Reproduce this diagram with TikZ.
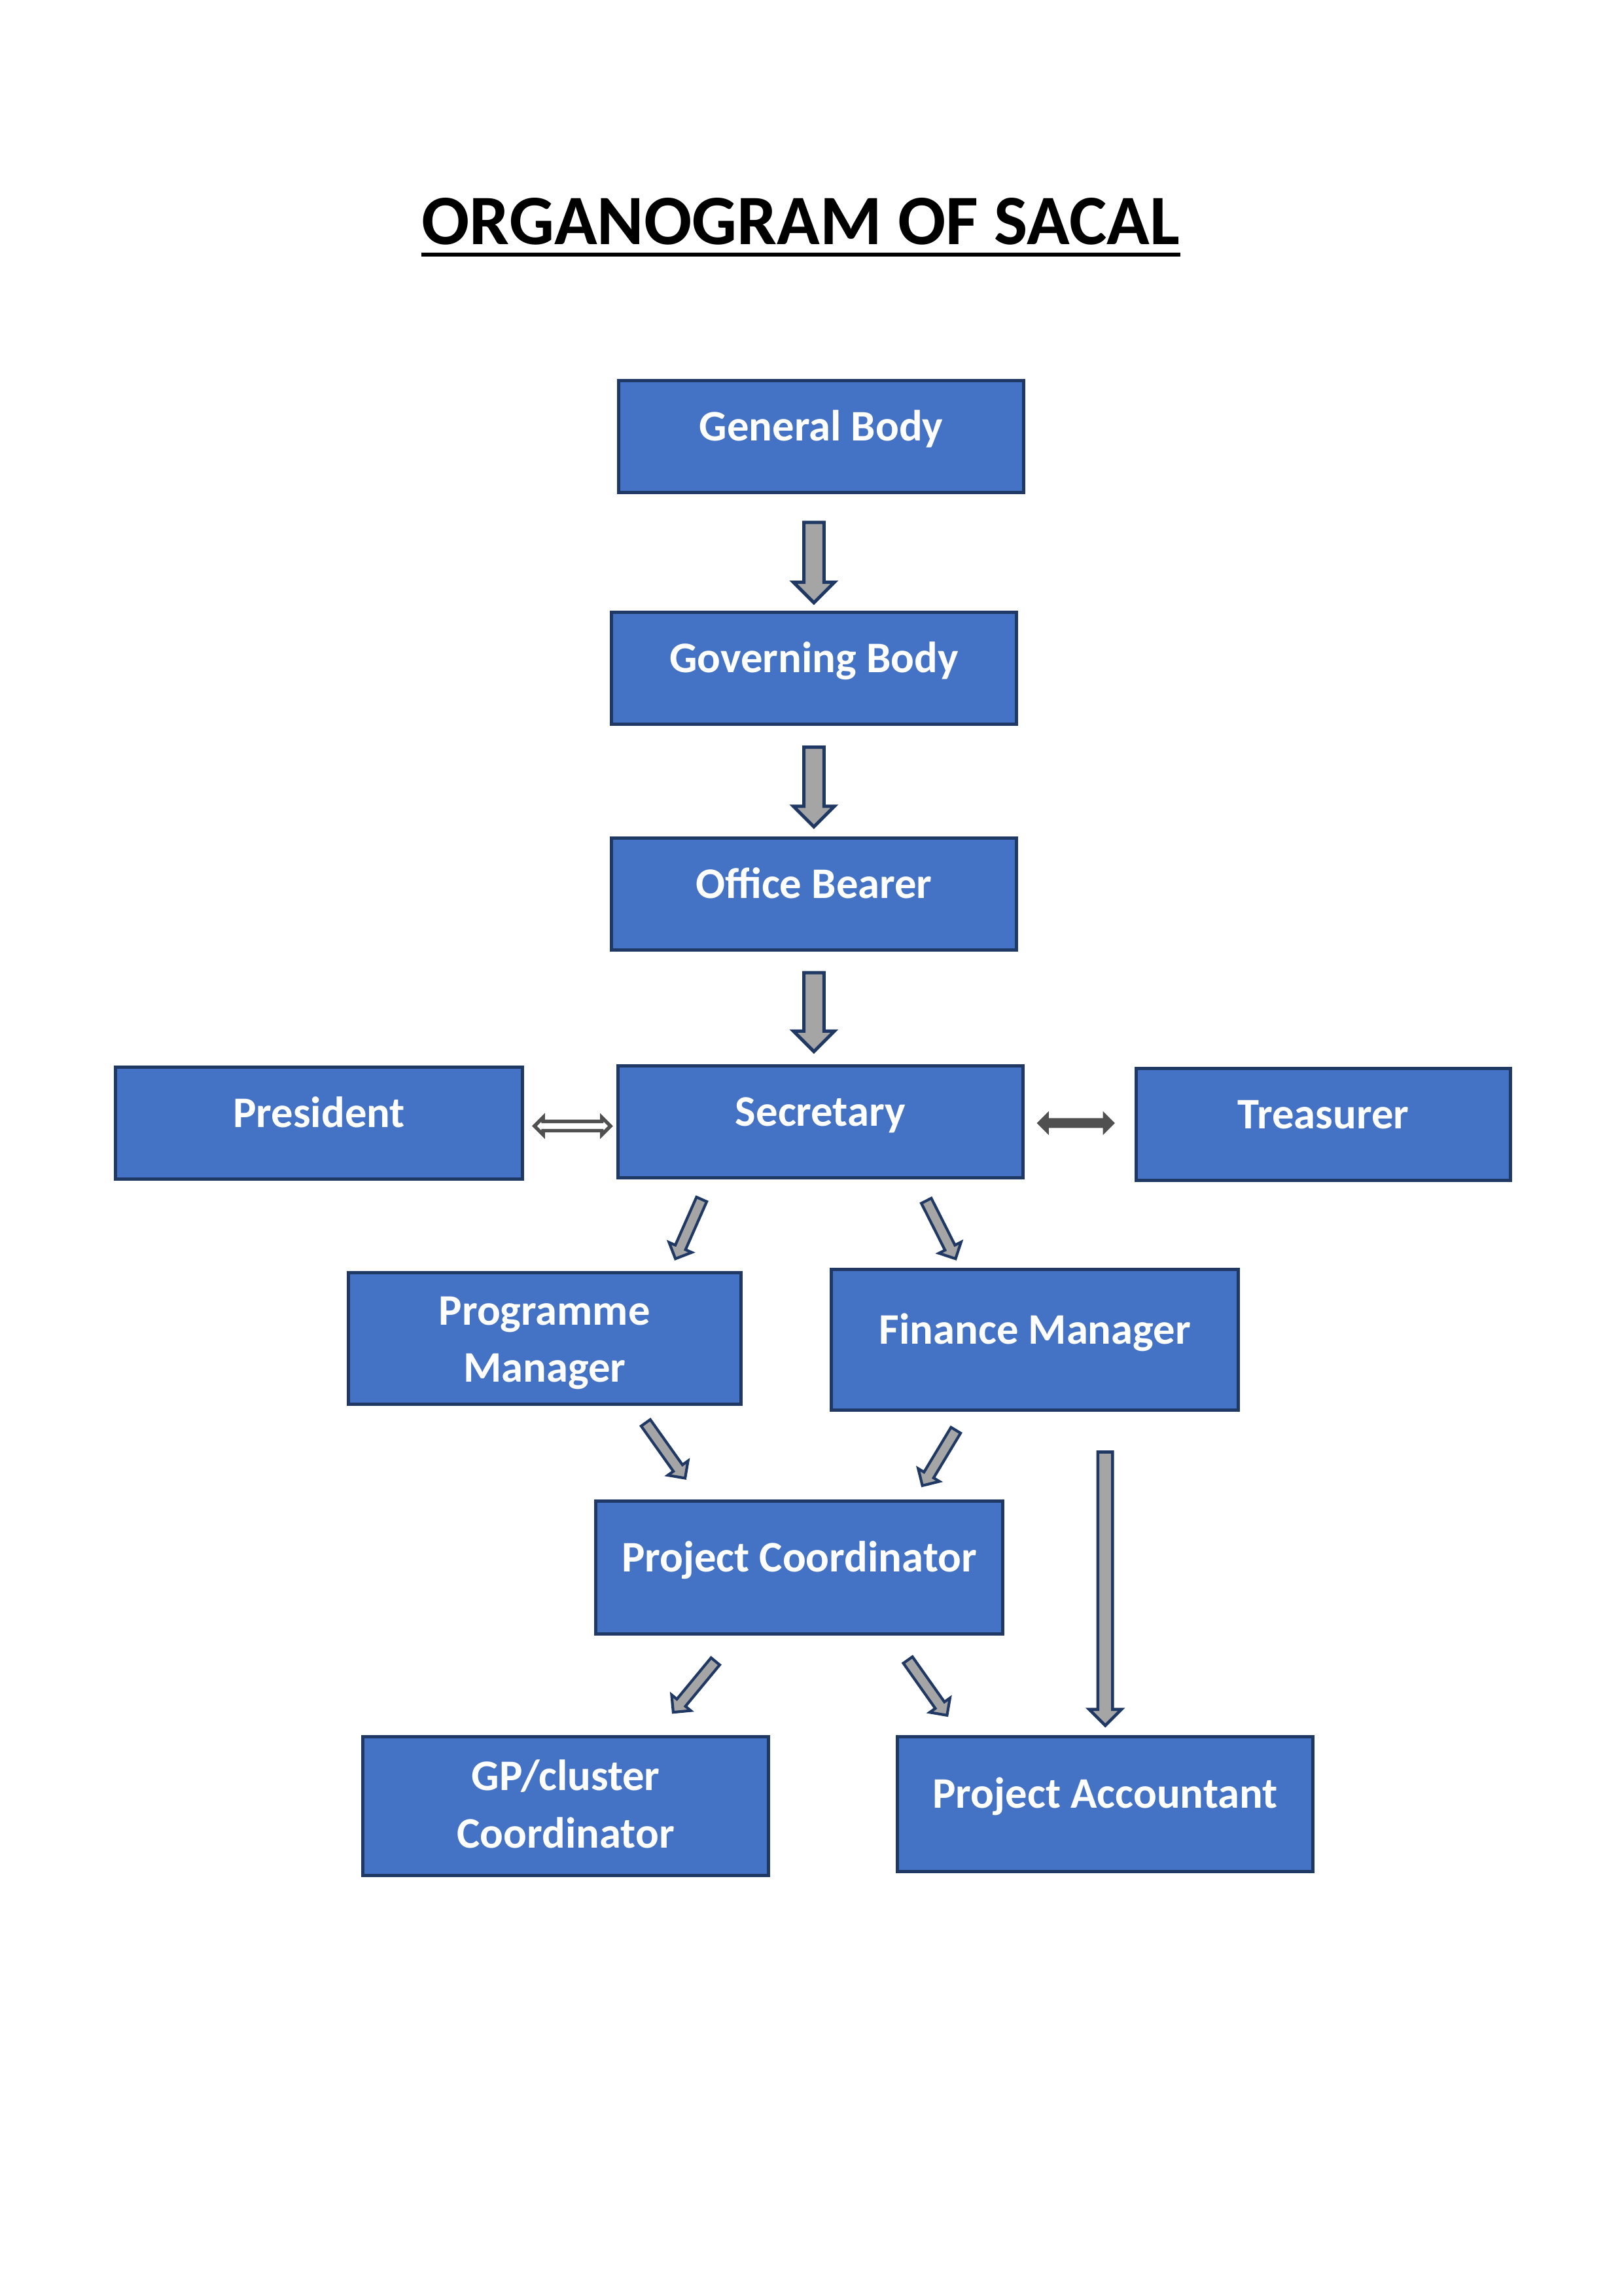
\documentclass[tikz,border=0pt]{standalone}
\usepackage{fontspec}
\setmainfont{Carlito}
\usepackage{tikz}
\usetikzlibrary{positioning, shapes.arrows, calc}

\definecolor{boxblue}{HTML}{4472C4}
\definecolor{boxline}{HTML}{1F3864}
\definecolor{arrowgray}{HTML}{A5A5A5}
\definecolor{darkarrow}{HTML}{505050}

\tikzset{
    orgbox/.style={draw=boxline, fill=boxblue, line width=1.2pt, text=white,
        font=\fontsize{16}{21}\selectfont\bfseries, align=center,
        minimum width=148.5pt, minimum height=41pt, text height=11.2pt, text depth=8pt, inner sep=2pt},
    downarrow/.style={single arrow, draw=boxline, fill=arrowgray, line width=1.2pt,
        inner xsep=0pt, inner ysep=3.1pt, minimum width=0pt,
        single arrow head extend=3.8pt, single arrow head indent=0pt},
    slantarrow/.style={single arrow, draw=boxline, fill=arrowgray, line width=1pt,
        inner xsep=0pt, inner ysep=1.55pt, minimum width=0pt,
        single arrow head extend=2.5pt, single arrow head indent=0pt},
    longarrow/.style={single arrow, draw=boxline, fill=arrowgray, line width=1.1pt,
        inner xsep=0pt, inner ysep=2.15pt, minimum width=0pt,
        single arrow head extend=3.2pt, single arrow head indent=0pt},
    presarrow/.style={double arrow, draw=darkarrow, fill=white, line width=1.3pt,
        inner xsep=0pt, inner ysep=1.05pt, minimum width=0pt,
        double arrow head extend=1.5pt, double arrow head indent=0pt},
    treasarrow/.style={double arrow, draw=darkarrow, fill=darkarrow, line width=0.5pt,
        inner xsep=0pt, inner ysep=1.3pt, minimum width=0pt,
        double arrow head extend=2.2pt, double arrow head indent=0pt},
    link/.style={to path={let \p1=(\tikztostart), \p2=(\tikztotarget), \n1={veclen(\x2-\x1,\y2-\y1)} in
        (\tikztostart) -- (\tikztotarget) node[midway, sloped, allow upside down, #1, minimum height=\n1] {}}}
}

\begin{document}
\begin{tikzpicture}[x=0.5368pt, y=-0.5368pt]
    \useasboundingbox (0,0) rectangle (1109,1568);

    % Title
    \node[font=\fontsize{26}{31}\selectfont\bfseries, inner sep=0pt, anchor=base] (title) at (547,167) {ORGANOGRAM OF SACAL};
    \draw[line width=1.4pt] ($(title.base west)+(0,7)$) -- ($(title.base east)+(0,7)$);

    % Nodes
    \node[orgbox] (general) at (561,298) {General Body};
    \node[orgbox] (governing) at (556,456.5) {Governing Body};
    \node[orgbox] (bearer) at (556,610.5) {Office Bearer};
    \node[orgbox, minimum width=149.2pt] (president) at (218,767) {President};
    \node[orgbox] (secretary) at (560.5,766) {Secretary};
    \node[orgbox, minimum width=137.4pt] (treasurer) at (904,768) {Treasurer};
    \node[orgbox, minimum width=143.9pt, minimum height=48.3pt, text height=36pt, text depth=3.8pt] (progman) at (372,914) {Programme\\Manager};
    \node[orgbox, minimum width=149.2pt, minimum height=51.5pt] (finman) at (707,915) {Finance Manager};
    \node[orgbox, minimum width=149.2pt, minimum height=48.8pt] (coord) at (546,1070.5) {Project Coordinator};
    \node[orgbox, minimum width=148.7pt, minimum height=51pt, text height=35pt, text depth=4.4pt] (gpcoord) at (386.5,1233.5) {GP/cluster\\Coordinator};
    \node[orgbox, minimum width=152.5pt, minimum height=49.4pt] (accountant) at (755,1232) {Project Accountant};

    % Arrows
    \path ($(general.south -| governing.north)+(0,16)$) to[link=downarrow] ($(governing.north)+(0,-9)$);
    \path ($(governing.south)+(0,11)$) to[link=downarrow] ($(bearer.north)+(0,-10)$);
    \path ($(bearer.south)+(0,11)$) to[link=downarrow] ($(secretary.north -| bearer.south)+(0,-12)$);
    \path ($(president.east)+(7,2)$) to[link=presarrow] ($(secretary.west)+(-4,3)$);
    \path ($(secretary.east)+(9,1)$) to[link=treasarrow] ($(treasurer.west)+(-14,-1)$);
    \path ($(secretary.south west)+(59,12)$) to[link=slantarrow] ($(progman.north east)+(-45,-10)$);
    \path ($(secretary.south east)+(-68,13)$) to[link=slantarrow] ($(finman.north west)+(85,-8)$);
    \path ($(progman.south)+(68,10)$) to[link=slantarrow] ($(coord.north west)+(61,-16)$);
    \path ($(finman.south west)+(87,11)$) to[link=slantarrow] ($(coord.north east)+(-55,-11)$);
    \path ($(coord.south west)+(84,16)$) to[link=slantarrow] ($(gpcoord.north east)+(-65,-17)$);
    \path ($(coord.south east)+(-67,15)$) to[link=slantarrow] ($(accountant.north west)+(34,-15)$);
    \path ($(finman.south -| accountant.north)+(0,25)$) to[link=longarrow] ($(accountant.north)+(0,-9)$);
\end{tikzpicture}
\end{document}
